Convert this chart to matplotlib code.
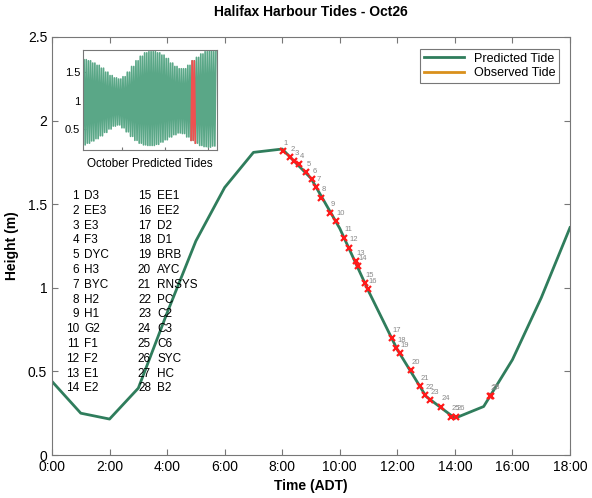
import matplotlib
matplotlib.use("Agg")
import matplotlib.pyplot as plt
from matplotlib.ticker import FormatStrFormatter

plt.rcParams['font.family'] = ['Liberation Sans', 'DejaVu Sans']

# predicted tide, hourly (ADT)
pred_hours = list(range(0, 19))
pred_height = [0.44, 0.25, 0.215, 0.40, 0.85, 1.28, 1.60, 1.81, 1.83, 1.655,
               1.355, 0.98, 0.63, 0.35, 0.22, 0.29, 0.57, 0.94, 1.36]

# observed tide (none yet)
obs_hours = []
obs_height = []

# station sample times / heights
stn_time = [8.01, 8.26, 8.41, 8.59, 8.82, 9.02, 9.19, 9.36, 9.65, 9.88,
            10.14, 10.31, 10.56, 10.64, 10.89, 10.98, 11.80, 11.97, 12.08, 12.47,
            12.78, 12.95, 13.15, 13.51, 13.88, 14.03, 15.21, 15.24]
stn_height = [1.82, 1.78, 1.76, 1.74, 1.69, 1.65, 1.60, 1.54, 1.45, 1.40,
              1.30, 1.24, 1.16, 1.13, 1.03, 0.99, 0.70, 0.64, 0.61, 0.51,
              0.41, 0.36, 0.33, 0.29, 0.23, 0.23, 0.35, 0.355]
stn_names = ['D3', 'EE3', 'E3', 'F3', 'DYC', 'H3', 'BYC', 'H2', 'H1', 'G2',
             'F1', 'F2', 'E1', 'E2', 'EE1', 'EE2', 'D2', 'D1', 'BRB', 'AYC',
             'RNSYS', 'PC', 'C2', 'C3', 'C6', 'SYC', 'HC', 'B2']

# October envelope (daily high / low water)
oct_high = [1.72, 1.70, 1.66, 1.62, 1.57, 1.50, 1.44, 1.40, 1.38, 1.42, 1.50,
            1.60, 1.70, 1.78, 1.84, 1.86, 1.86, 1.84, 1.80, 1.74, 1.66, 1.60,
            1.56, 1.56, 1.62, 1.70, 1.76, 1.82, 1.86, 1.88, 1.86]
oct_low = [0.22, 0.25, 0.29, 0.33, 0.38, 0.44, 0.50, 0.55, 0.57, 0.52, 0.45,
           0.37, 0.30, 0.25, 0.22, 0.21, 0.21, 0.23, 0.27, 0.31, 0.36, 0.40,
           0.43, 0.42, 0.36, 0.30, 0.25, 0.21, 0.19, 0.18, 0.20]
today = 26

green = '#2f7d5c'
green_lt = '#5aa787'
fig = plt.figure(figsize=(5.92, 4.98), dpi=100)
ax = fig.add_axes([52/592, 1 - 455/498, (570-52)/592, (455-37)/498])

ax.plot(pred_hours, pred_height, color=green, lw=2, label='Predicted Tide')
ax.plot(obs_hours, obs_height, color='#d9901c', lw=2, label='Observed Tide')
ax.plot(stn_time, stn_height, ls='none', marker='x', color='#ff1a1a',
        markersize=5, mew=1.6)
for i in range(len(stn_time)):
    ax.text(stn_time[i] + 0.02, stn_height[i] + 0.025, str(i + 1), fontsize=5.5,
            color='#888888', ha='left', va='bottom')

ax.set_xlim(0, 18)
ax.set_ylim(0, 2.5)
ax.set_xticks(range(0, 19, 2))
ax.set_xticklabels(['%d:00' % h for h in range(0, 19, 2)])
ax.set_yticks([0, 0.5, 1, 1.5, 2, 2.5])
ax.yaxis.set_major_formatter(FormatStrFormatter('%g'))
ax.tick_params(direction='in', top=True, right=True, labelsize=10, length=4,
               color='#777777')
for s in ax.spines.values():
    s.set_color('#777777')
ax.set_xlabel('Time (ADT)', fontsize=10, fontweight='bold', labelpad=4)
ax.set_ylabel('Height (m)', fontsize=10, fontweight='bold', labelpad=6)
ax.set_title('Halifax Harbour Tides - Oct26', fontsize=10, fontweight='bold', pad=15)

leg = ax.legend(loc='upper right', fontsize=9, fancybox=False, edgecolor='#555555',
                handlelength=3.2, borderpad=0.3, labelspacing=0.2,
                bbox_to_anchor=(0.991, 0.986))
leg.get_frame().set_linewidth(0.8)

# station key
for i in range(14):
    y = 1 - (196 + i * 14.8) / 498
    fig.text(79/592, y, str(i + 1), fontsize=8.5, ha='right', va='center')
    fig.text(84/592, y, stn_names[i], fontsize=8.5, ha='left', va='center')
    fig.text(151/592, y, str(i + 15), fontsize=8.5, ha='right', va='center')
    fig.text(157/592, y, stn_names[i + 14], fontsize=8.5, ha='left', va='center')

# inset: whole month
tx = []
ty = []
for d in range(len(oct_high)):
    tx += [d + 1, d + 1.25, d + 1.5, d + 1.75]
    ty += [oct_low[d], oct_high[d], oct_low[d], oct_high[d]]
ins = fig.add_axes([83/592, 1 - 150/498, (217-83)/592, (150-50)/498])
ins.plot(tx, ty, color=green_lt, lw=1.2)
rx = [tx[i] for i in range(len(tx)) if today <= tx[i] <= today + 1]
ry = [ty[i] for i in range(len(tx)) if today <= tx[i] <= today + 1]
ins.plot(rx, ry, color='#f05050', lw=1.2)
ins.set_xlim(1, 32)
ins.set_ylim(0.13, 1.89)
ins.set_xticks([10, 20, 30])
ins.set_xticklabels([])
ins.set_yticks([0.5, 1, 1.5])
ins.yaxis.set_major_formatter(FormatStrFormatter('%g'))
ins.tick_params(direction='in', labelsize=8, length=2, color='#777777', pad=2)
for s in ins.spines.values():
    s.set_color('#777777')
ins.set_xlabel('October Predicted Tides', fontsize=8.5, labelpad=4)

fig.savefig('out.png', dpi=100)
